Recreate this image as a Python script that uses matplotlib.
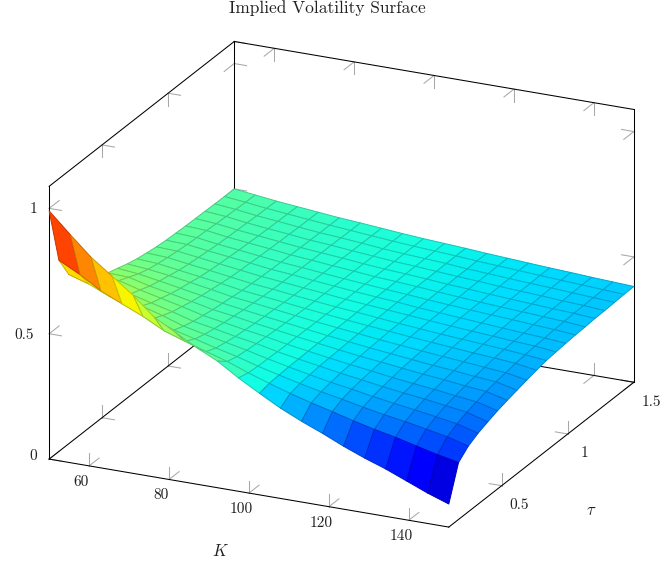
import numpy as np
import matplotlib
matplotlib.use('Agg')
import matplotlib.pyplot as plt
from mpl_toolkits.mplot3d import proj3d

plt.rcParams['font.family'] = 'cmr10'
plt.rcParams['mathtext.fontset'] = 'cm'

# strikes and maturities of the grid
strikes = [50, 55.26, 60.53, 65.79, 71.05, 76.32, 81.58, 86.84, 92.11, 97.37,
           102.63, 107.89, 113.16, 118.42, 123.68, 128.95, 134.21, 139.47, 144.74, 150]
maturities = [0.1, 0.1737, 0.2474, 0.3211, 0.3947, 0.4684, 0.5421, 0.6158, 0.6895, 0.7632,
              0.8368, 0.9105, 0.9842, 1.0579, 1.1316, 1.2053, 1.2789, 1.3526, 1.4263, 1.5]

# implied vol, one row per maturity
vols = [
    [.990, .910, .833, .772, .710, .637, .591, .545, .505, .452, .405, .360, .322, .288, .251, .218, .189, .155, .121, .092],
    [.763, .720, .669, .632, .596, .553, .525, .498, .473, .442, .414, .388, .365, .344, .322, .302, .285, .264, .244, .227],
    [.676, .650, .614, .586, .557, .525, .504, .482, .462, .438, .417, .397, .379, .363, .346, .330, .317, .301, .285, .262],
    [.635, .616, .586, .562, .538, .510, .492, .474, .457, .437, .419, .402, .386, .373, .358, .345, .333, .320, .306, .283],
    [.605, .591, .565, .544, .523, .499, .484, .467, .453, .435, .420, .406, .392, .380, .367, .356, .346, .334, .322, .298],
    [.580, .574, .551, .532, .513, .492, .478, .463, .450, .434, .421, .408, .396, .385, .373, .363, .354, .343, .333, .312],
    [.560, .557, .536, .520, .503, .485, .473, .459, .447, .434, .422, .410, .399, .390, .380, .370, .362, .352, .344, .323],
    [.548, .540, .526, .511, .496, .480, .468, .456, .445, .433, .422, .412, .402, .393, .384, .375, .368, .359, .352, .333],
    [.535, .528, .517, .504, .490, .475, .465, .454, .443, .432, .423, .414, .404, .396, .388, .380, .373, .365, .358, .343],
    [.525, .520, .508, .496, .484, .470, .461, .451, .441, .432, .423, .415, .407, .399, .392, .385, .378, .372, .365, .352],
    [.518, .514, .502, .491, .479, .467, .459, .449, .440, .431, .424, .416, .408, .401, .394, .388, .382, .376, .369, .360],
    [.512, .509, .498, .487, .476, .465, .457, .448, .440, .431, .424, .417, .410, .403, .396, .390, .384, .378, .373, .364],
    [.508, .505, .494, .484, .474, .463, .456, .447, .439, .431, .424, .418, .410, .404, .398, .392, .386, .380, .375, .368],
    [.506, .502, .490, .481, .471, .461, .454, .446, .438, .431, .424, .418, .411, .405, .399, .394, .389, .383, .378, .371],
    [.504, .500, .488, .479, .470, .460, .453, .445, .438, .430, .425, .419, .412, .406, .400, .395, .390, .385, .380, .373],
    [.503, .497, .486, .477, .468, .459, .452, .445, .437, .430, .425, .419, .412, .407, .401, .396, .391, .386, .382, .376],
    [.502, .495, .484, .475, .467, .458, .452, .444, .437, .430, .425, .419, .413, .408, .402, .397, .393, .387, .383, .377],
    [.501, .493, .482, .474, .465, .457, .451, .444, .436, .430, .425, .420, .413, .408, .403, .398, .394, .389, .384, .379],
    [.500, .491, .481, .473, .465, .457, .450, .443, .436, .430, .425, .420, .414, .409, .404, .399, .394, .390, .385, .381],
    [.500, .490, .480, .472, .464, .456, .450, .443, .436, .430, .425, .420, .414, .409, .404, .399, .395, .390, .386, .382],
]

k_ticks = [60, 80, 100, 120, 140]
tau_ticks = [0.5, 1, 1.5]
tau_labels = ['0.5', '1', '1.5']
z_ticks = [0, 0.5, 1]
z_labels = ['0', '0.5', '1']

k_min, k_max = 50, 150
t_min, t_max = 0.1, 1.5
z_min, z_max = 0, 1.088

W, H = 665, 563
fig = plt.figure(figsize=(W / 100, H / 100), dpi=100)
side = 660
ax = fig.add_axes([2.6 / W, -60.2 / H, side / W, side / H], projection='3d', proj_type='ortho')
ax.view_init(elev=21.4, azim=-65)
ax.set_box_aspect((441, 438, 293), zoom=1.0106)
ax.set_xlim(k_min, k_max)
ax.set_ylim(t_min, t_max)
ax.set_zlim(z_min, z_max)
ax.axis('off')
ax.computed_zorder = False


def line(a, b, **kw):
    ax.plot([a[0], b[0]], [a[1], b[1]], [a[2], b[2]], **kw)


# the nine box edges that are drawn
box = dict(color='black', lw=0.75, zorder=2)
line((k_min, t_min, z_min), (k_max, t_min, z_min), **box)
line((k_max, t_min, z_min), (k_max, t_max, z_min), **box)
line((k_min, t_min, z_min), (k_min, t_max, z_min), **box)
line((k_min, t_max, z_min), (k_max, t_max, z_min), **box)
line((k_min, t_min, z_min), (k_min, t_min, z_max), **box)
line((k_min, t_max, z_min), (k_min, t_max, z_max), **box)
line((k_max, t_max, z_min), (k_max, t_max, z_max), **box)
line((k_min, t_min, z_max), (k_min, t_max, z_max), **box)
line((k_min, t_max, z_max), (k_max, t_max, z_max), **box)

# pgfplots style ticks, two prongs on every edge
tick = dict(color='#a8a8a8', lw=0.75, zorder=1)
dk, dt, dz = 3.1, 0.076, 0.05


def prongs(p, d1, d2):
    line(p, (p[0] + d1[0], p[1] + d1[1], p[2] + d1[2]), **tick)
    line(p, (p[0] + d2[0], p[1] + d2[1], p[2] + d2[2]), **tick)


for k in k_ticks:
    prongs((k, t_min, z_min), (0, dt, 0), (0, 0, dz))
    prongs((k, t_max, z_min), (0, -dt, 0), (0, 0, dz))
    prongs((k, t_max, z_max), (0, -dt, 0), (0, 0, -dz))
for t in tau_ticks:
    prongs((k_min, t, z_min), (dk, 0, 0), (0, 0, dz))
    prongs((k_max, t, z_min), (-dk, 0, 0), (0, 0, dz))
    prongs((k_min, t, z_max), (dk, 0, 0), (0, 0, -dz))
for z in z_ticks:
    prongs((k_min, t_min, z), (dk, 0, 0), (0, dt, 0))
    prongs((k_min, t_max, z), (dk, 0, 0), (0, -dt, 0))
    prongs((k_max, t_max, z), (-dk, 0, 0), (0, -dt, 0))

# surface, faces coloured by the mean of the four corners, edges a bit darker
K, T = np.meshgrid(strikes, maturities)
Z = np.array(vols)
norm = plt.Normalize(Z.min(), Z.max())
mean_z = (Z[:-1, :-1] + Z[1:, :-1] + Z[:-1, 1:] + Z[1:, 1:]) / 4
faces = plt.cm.jet(norm(mean_z))
surf = ax.plot_surface(K, T, Z, facecolors=faces, rstride=1, cstride=1, shade=False,
                       linewidth=0.7, antialiased=True, zorder=3)
edges = faces.reshape(-1, 4).copy()
edges[:, :3] *= 0.8
surf.set_edgecolor(edges)


def label(x, y, z, text, dx, dy, size=11):
    # offset from the projected data point, in pixels (0.72 pt each)
    px, py, _ = proj3d.proj_transform(x, y, z, ax.get_proj())
    ax.annotate(text, xy=(px, py), xytext=(dx * 0.72, -dy * 0.72), textcoords='offset points',
                ha='center', va='center', fontsize=size, color='#222222', annotation_clip=False)


for k in k_ticks:
    label(k, t_min, z_min, str(k), -8, 16)
for t, s in zip(tau_ticks, tau_labels):
    label(k_max, t, z_min, s, 17, 20 if t == 1.5 else 19)
for z, s in zip(z_ticks, z_labels):
    label(k_min, t_min, z, s, -25 if len(s) > 1 else -16, -3 if z == 0 else 1)
label(100, t_min, z_min, '$K$', -29, 58, size=12)
label(k_max, 0.85, z_min, r'$\tau$', 43, 61, size=12)

fig.text(327 / W, 1 - 8 / H, 'Implied Volatility Surface', ha='center', va='center',
         fontsize=12.5, color='#222222')

fig.savefig('out.png', dpi=100)
